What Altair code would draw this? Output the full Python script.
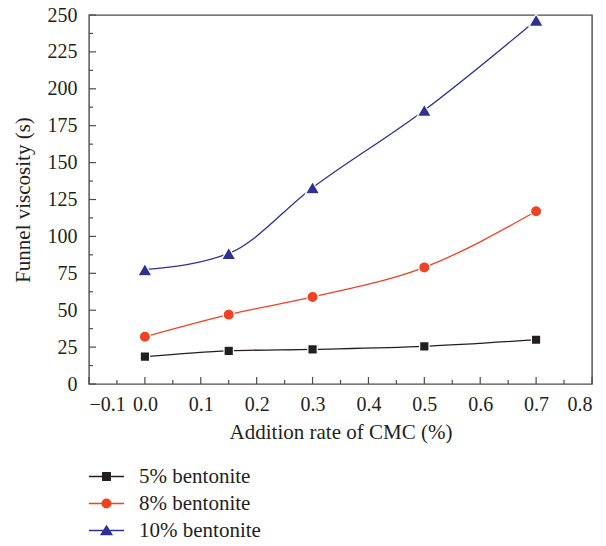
import altair as alt
import pandas as pd

# Measured funnel viscosity against CMC addition rate
cmc_rate = [0.0, 0.15, 0.3, 0.5, 0.7]
visc_5 = [18.5, 22.4, 23.5, 25.5, 30.0]
visc_8 = [32.0, 47.0, 59.0, 79.0, 117.0]
visc_10 = [77.5, 88.5, 133.0, 185.5, 246.5]

series_names = ["5% bentonite", "8% bentonite", "10% bentonite"]
series_colors = ["#231f20", "#ef4123", "#2e3192"]
series_shapes = ["square", "circle", "triangle-up"]
series_sizes = [88, 125, 200]

# legend keys: a short line with the series marker in the middle
legend_keys = [
    "M-4.4,0H4.4M-0.95,-0.95H0.95V0.95H-0.95Z",
    "M-4.4,0H4.4M1.1,0A1.1,1.1,0,1,1,-1.1,0A1.1,1.1,0,1,1,1.1,0Z",
    "M-4.4,0H4.4M0,-1.15L1.35,1.05L-1.35,1.05Z",
]

x_major = [-0.1, 0.0, 0.1, 0.2, 0.3, 0.4, 0.5, 0.6, 0.7, 0.8]
x_minor = [-0.05, 0.05, 0.15, 0.25, 0.35, 0.45, 0.55, 0.65, 0.75]
y_major = [0, 25, 50, 75, 100, 125, 150, 175, 200, 225, 250]
y_minor = [12.5, 37.5, 62.5, 87.5, 112.5, 137.5, 162.5, 187.5, 212.5, 237.5]

PLOT_W, PLOT_H = 503, 369
FONT = "Liberation Serif"
INK = "#231f20"
FRAME = "#4d4d4d"

rows = []
for name, vals in zip(series_names, [visc_5, visc_8, visc_10]):
    for x, v in zip(cmc_rate, vals):
        rows.append({"rate": x, "viscosity": v, "series": name})
df = pd.DataFrame(rows)

x_scale = alt.Scale(domain=[-0.1, 0.8], nice=False, zero=False)
y_scale = alt.Scale(domain=[0, 250], nice=False, zero=True)

axis_text = dict(
    labelFont=FONT, labelFontSize=20, labelColor=INK, labelOverlap=False,
    titleFont=FONT, titleFontSize=21, titleColor=INK, titleFontWeight="normal",
    ticks=False, domain=False, grid=False,
)
x_axis = alt.Axis(values=x_major, format=".1f", title="Addition rate of CMC (%)",
                  labelPadding=10, titlePadding=7, **axis_text)
y_axis = alt.Axis(values=y_major, title="Funnel viscosity (s)",
                  labelPadding=12, titlePadding=14, **axis_text)

x_enc = alt.X("rate:Q", scale=x_scale, axis=x_axis)
y_enc = alt.Y("viscosity:Q", scale=y_scale, axis=y_axis)

lines = alt.Chart(df).mark_line(interpolate="monotone", strokeWidth=1.3).encode(
    x=x_enc,
    y=y_enc,
    color=alt.Color("series:N", sort=series_names,
                    scale=alt.Scale(range=series_colors), legend=None),
)

# one marker layer per series
marker_layers = [
    alt.Chart(df).transform_filter(alt.datum.series == name).mark_point(
        filled=True, shape=shape, size=size, fill=color, opacity=1,
        stroke="white", strokeWidth=1.2,
    ).encode(x=x_enc, y=y_enc)
    for name, color, shape, size in zip(series_names, series_colors,
                                        series_shapes, series_sizes)
]

# legend: drawn from an empty layer whose symbols combine line and marker
series_legend = alt.Legend(
    title=None, orient="none", legendX=7, legendY=451, labelOffset=22,
    rowPadding=5, padding=0, symbolSize=64, symbolStrokeWidth=1.3,
    labelFont=FONT, labelFontSize=21, labelColor=INK,
)
legend_layer = alt.Chart(df).transform_filter("false").mark_point(
    filled=True, opacity=1, strokeWidth=1.3
).encode(
    x=x_enc,
    y=y_enc,
    fill=alt.Fill("series:N",
                  scale=alt.Scale(domain=series_names, range=series_colors),
                  legend=series_legend),
    stroke=alt.Stroke("series:N",
                      scale=alt.Scale(domain=series_names, range=series_colors),
                      legend=series_legend),
    shape=alt.Shape("series:N",
                    scale=alt.Scale(domain=series_names, range=legend_keys),
                    legend=series_legend),
)

# inward-pointing major and minor ticks on the left and bottom axes
def tick_rules(values, channel, length):
    base = alt.Chart(pd.DataFrame({"v": values})).mark_rule(color=FRAME, strokeWidth=1.2)
    if channel == "y":
        return base.encode(y=alt.Y("v:Q", scale=y_scale, axis=y_axis),
                           x=alt.value(0), x2=alt.value(length))
    return base.encode(x=alt.X("v:Q", scale=x_scale, axis=x_axis),
                       y=alt.value(PLOT_H), y2=alt.value(PLOT_H - length))

ticks = [
    tick_rules(y_major, "y", 7), tick_rules(y_minor, "y", 4),
    tick_rules(x_major, "x", 7), tick_rules(x_minor, "x", 4),
]

chart = (
    alt.layer(lines, *marker_layers, legend_layer, *ticks)
    .properties(
        width=PLOT_W,
        height=PLOT_H,
        autosize=alt.AutoSizeParams(type="none"),
        padding={"left": 89, "top": 15, "right": 14, "bottom": 162},
        background="white",
    )
    .configure_view(stroke=FRAME, strokeWidth=1.4)
)

chart.save("out.html", embed_options={"renderer": "svg", "actions": False})
